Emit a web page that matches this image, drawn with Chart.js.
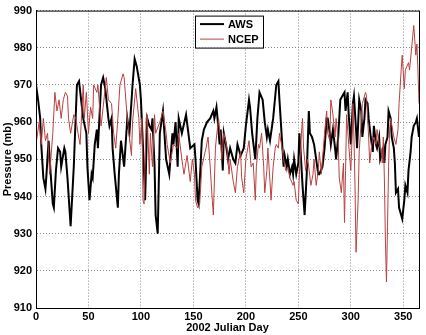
<!DOCTYPE html>
<html>
<head>
<meta charset="utf-8">
<script src="https://cdn.jsdelivr.net/npm/chart.js@4.4.1/dist/chart.umd.min.js"></script>
<style>
  html, body { margin: 0; padding: 0; background: #fff; }
  #wrap { width: 426px; height: 335px; }
</style>
</head>
<body>
<div id="wrap"><canvas id="pressureChart" width="426" height="335"></canvas></div>
<script>
// series (day of year, pressure in mb)
const seriesNames = ["AWS", "NCEP"];

const awsDay = [
  0, 2, 4, 5, 7, 9, 10, 12, 14, 16,
  17, 19, 21, 23, 24, 27, 28, 30, 33, 36,
  39, 41, 43, 45, 48, 49, 51, 53, 54, 56,
  58, 59, 62, 64, 66, 69, 70, 72, 73, 75,
  78, 79, 81, 84, 87, 89, 92, 94, 96, 99,
  100, 102, 104, 106, 108, 110, 111, 113, 114, 116,
  118, 121, 124, 127, 130, 131, 133, 135, 136, 139,
  143, 147, 151, 152, 154, 155, 158, 160, 163, 166,
  169, 170, 172, 173, 175, 176, 177, 178, 179, 181,
  183, 185, 188, 190, 192, 195, 198, 200, 203, 204,
  206, 209, 211, 213, 216, 218, 220, 221, 223, 226,
  229, 231, 232, 234, 236, 237, 239, 240, 242, 244,
  245, 246, 248, 250, 251, 252, 254, 256, 258, 260,
  261, 263, 265, 266, 269, 270, 273, 275, 277, 278,
  280, 281, 283, 285, 286, 288, 290, 292, 294, 295,
  297, 298, 300, 302, 303, 305, 306, 308, 310, 311,
  313, 314, 316, 317, 319, 321, 322, 324, 325, 327,
  328, 331, 332, 333, 335, 336, 338, 339, 341, 342,
  343, 345, 346, 349, 351, 352, 354, 355, 357, 358,
  360, 362, 363, 365
];
const awsPressure = [
  970, 966, 961, 954, 945, 942, 946, 955, 946, 938,
  937, 947, 953, 952, 948, 953, 952, 945, 932, 948,
  970, 971, 966, 961, 957, 948, 939, 946, 945, 954,
  958, 953, 970, 972, 969, 961, 959, 961, 953, 946,
  937, 946, 955, 948, 961, 957, 970, 977, 975, 970,
  966, 953, 939, 961, 959, 958, 961, 948, 935, 930,
  957, 963, 950, 946, 957, 954, 960, 948, 961, 957,
  962, 953, 954, 950, 939, 938, 955, 958, 960, 961,
  963, 961, 964, 961, 954, 958, 953, 947, 957, 954,
  950, 953, 950, 949, 954, 951, 953, 959, 966, 964,
  957, 950, 961, 968, 966, 960, 956, 958, 955, 961,
  970, 971, 966, 957, 948, 951, 948, 950, 946, 948,
  946, 950, 946, 949, 957, 953, 943, 935, 946, 963,
  957, 956, 954, 952, 946, 946, 948, 953, 961, 961,
  957, 954, 958, 953, 950, 956, 966, 967, 968, 963,
  968, 962, 954, 965, 967, 958, 953, 966, 963, 956,
  961, 966, 965, 961, 956, 952, 959, 954, 953, 956,
  950, 953, 949, 954, 956, 963, 961, 956, 953, 949,
  941, 942, 937, 934, 939, 943, 941, 947, 952, 956,
  959, 960, 961, 956
];

const ncepDay = [
  0, 3, 5, 7, 9, 11, 13, 16, 18, 20,
  22, 24, 26, 28, 30, 31, 33, 36, 38, 40,
  42, 45, 46, 48, 50, 52, 54, 55, 58, 59,
  62, 64, 67, 69, 72, 74, 76, 78, 80, 83,
  84, 87, 91, 92, 95, 98, 99, 101, 102, 103,
  105, 106, 108, 109, 111, 113, 114, 118, 121, 124,
  125, 128, 131, 135, 136, 139, 141, 144, 147, 149,
  151, 152, 154, 156, 158, 162, 164, 166, 168, 169,
  171, 172, 174, 176, 177, 179, 182, 184, 185, 187,
  188, 190, 192, 195, 196, 198, 200, 203, 205, 207,
  209, 210, 212, 213, 215, 217, 218, 220, 221, 223,
  224, 226, 228, 229, 231, 232, 234, 236, 238, 240,
  242, 245, 246, 248, 250, 251, 253, 254, 255, 257,
  259, 262, 264, 265, 267, 269, 270, 272, 273, 275,
  277, 278, 280, 281, 283, 285, 286, 288, 289, 291,
  293, 294, 295, 296, 298, 300, 301, 302, 303, 304,
  305, 307, 308, 311, 314, 315, 316, 317, 318, 320,
  322, 324, 325, 327, 328, 329, 330, 331, 332, 333,
  334, 335, 336, 337, 338, 341, 343, 345, 346, 348,
  349, 351, 352, 355, 356, 357, 359, 360, 362, 363,
  364, 365
];
const ncepPressure = [
  954, 960, 954, 961, 955, 957, 946, 957, 968, 963,
  966, 961, 966, 968, 967, 961, 957, 962, 961, 957,
  954, 970, 961, 968, 957, 964, 961, 970, 968, 970,
  959, 964, 972, 966, 965, 957, 953, 961, 970, 973,
  972, 961, 951, 960, 969, 961, 954, 961, 939, 938,
  961, 962, 946, 957, 948, 962, 957, 960, 963, 957,
  954, 949, 954, 953, 957, 950, 946, 951, 944, 950,
  946, 939, 937, 938, 948, 953, 956, 948, 939, 935,
  953, 956, 961, 955, 950, 957, 953, 946, 950, 946,
  944, 941, 948, 952, 945, 941, 950, 955, 948, 949,
  939, 948, 954, 953, 957, 948, 941, 947, 953, 944,
  939, 948, 953, 954, 953, 957, 954, 950, 947, 948,
  945, 943, 944, 939, 938, 946, 957, 961, 953, 947,
  950, 943, 946, 950, 943, 947, 952, 946, 950, 957,
  963, 957, 955, 966, 962, 956, 961, 955, 945, 941,
  949, 933, 947, 962, 954, 947, 954, 965, 956, 943,
  925, 939, 952, 965, 968, 967, 961, 956, 949, 954,
  956, 954, 958, 954, 953, 953, 949, 956, 945, 928,
  917, 932, 948, 958, 961, 956, 954, 958, 965, 974,
  978, 969, 974, 976, 974, 977, 983, 986, 978, 981,
  974, 965
];

const xTicks = [0, 50, 100, 150, 200, 250, 300, 350];
const yTicks = [910, 920, 930, 940, 950, 960, 970, 980, 990];

const toPoints = (days, vals) => days.map((d, i) => ({ x: d, y: vals[i] }));

// box round the axes, like matlab does
const axesBox = {
  id: "axesBox",
  afterDraw(chart) {
    const { ctx, chartArea: a } = chart;
    ctx.save();
    ctx.strokeStyle = "#000";
    ctx.lineWidth = 1;
    ctx.strokeRect(a.left + 0.5, a.top + 0.5, a.right - a.left, a.bottom - a.top);
    ctx.restore();
  }
};

// legend sits inside the plot, near the top centre
const insideLegend = {
  id: "insideLegend",
  afterDraw(chart) {
    const { ctx, chartArea: a } = chart;
    const w = 68, h = 32;
    const x = Math.round((a.left + a.right) / 2 - w / 2 + 1);
    const y = a.top + 5;
    ctx.save();
    ctx.fillStyle = "#fff";
    ctx.fillRect(x, y, w, h);
    ctx.strokeStyle = "#000";
    ctx.lineWidth = 1;
    ctx.strokeRect(x + 0.5, y + 0.5, w, h);
    ctx.font = 'bold 11px "Liberation Sans", Arial, sans-serif';
    ctx.textBaseline = "middle";
    chart.data.datasets.forEach((ds, i) => {
      const ly = y + 8.5 + i * 15;
      ctx.strokeStyle = ds.borderColor;
      ctx.lineWidth = ds.borderWidth;
      ctx.beginPath();
      ctx.moveTo(x + 5, ly);
      ctx.lineTo(x + 29, ly);
      ctx.stroke();
      ctx.fillStyle = "#000";
      ctx.fillText(ds.label, x + 33, ly + 0.5);
    });
    ctx.restore();
  }
};

Chart.defaults.font.family = '"Liberation Sans", Arial, sans-serif';
Chart.defaults.font.size = 11;
Chart.defaults.font.weight = "bold";
Chart.defaults.color = "#000";

new Chart(document.getElementById("pressureChart"), {
  type: "line",
  data: {
    datasets: [
      {
        label: seriesNames[0],
        data: toPoints(awsDay, awsPressure),
        borderColor: "#000",
        borderWidth: 2,
        pointRadius: 0,
        tension: 0,
        order: 1
      },
      {
        label: seriesNames[1],
        data: toPoints(ncepDay, ncepPressure),
        borderColor: "rgb(185, 65, 65)",
        borderWidth: 1,
        pointRadius: 0,
        tension: 0,
        order: 0
      }
    ]
  },
  options: {
    responsive: false,
    animation: false,
    devicePixelRatio: 1,
    layout: { padding: { top: 5, right: 7, left: 0, bottom: 0 } },
    plugins: { legend: { display: false }, tooltip: { enabled: false } },
    scales: {
      x: {
        type: "linear",
        min: 0,
        max: 365,
        afterBuildTicks: s => { s.ticks = xTicks.map(v => ({ value: v })); },
        afterFit: s => { s.height = 27; },
        ticks: { padding: 2, maxRotation: 0 },
        grid: { color: "#8a8a8a", drawTicks: false },
        border: { color: "#000", dash: [1, 2] },
        title: {
          display: true,
          text: "2002 Julian Day",
          padding: { top: 0, bottom: 0 }
        }
      },
      y: {
        min: 910,
        max: 990,
        afterBuildTicks: s => { s.ticks = yTicks.map(v => ({ value: v })); },
        afterFit: s => { s.width = 36; },
        ticks: { padding: 4 },
        grid: { color: "#8a8a8a", drawTicks: false },
        border: { color: "#000", dash: [1, 2] },
        title: {
          display: true,
          text: "Pressure (mb)",
          padding: { top: 1, bottom: 0 }
        }
      }
    }
  },
  plugins: [axesBox, insideLegend]
});
</script>
</body>
</html>
